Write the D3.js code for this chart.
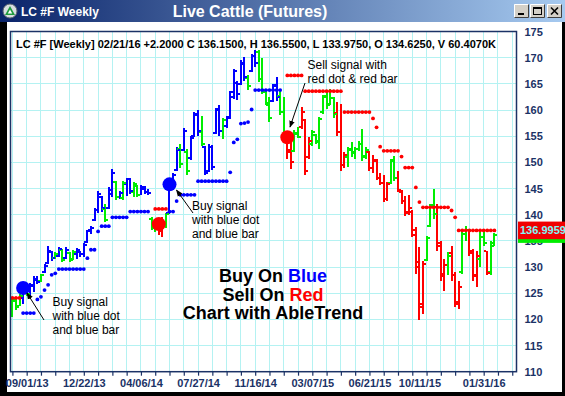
<!DOCTYPE html>
<html>
<head>
<meta charset="utf-8">
<script src="https://cdn.jsdelivr.net/npm/d3@7"></script>
<style>
  body { margin: 0; background: #000; }
  svg { display: block; font-family: "Liberation Sans", Arial, sans-serif; }
</style>
</head>
<body>
<svg id="chart" width="565" height="396"></svg>
<script>
"use strict";

// weekly OHLC bars, oldest first, last bar = week of 02/21/16
const highs = [
  124.2, 123.8, 124.8, 126.6, 126.0, 127.0, 128.3, 128.3, 128.6, 130.6,
  134.0, 133.0, 132.8, 133.8, 133.5, 133.8, 132.8, 133.2, 133.6, 133.0,
  134.6, 137.0, 137.8, 141.2, 144.6, 143.6, 142.0, 145.2, 148.8, 146.4,
  144.5, 146.4, 147.1, 147.0, 146.2, 145.6, 145.6, 145.4, 145.0, 139.5,
  139.2, 139.4, 139.5, 140.4, 145.2, 147.9, 152.9, 153.5, 156.5, 152.5,
  155.0, 159.6, 160.0, 158.9, 153.2, 153.6, 153.4, 160.3, 161.0, 158.4,
  158.8, 163.7, 167.9, 165.5, 169.5, 170.1, 166.6, 170.7, 171.4, 171.4,
  170.0, 164.0, 162.4, 165.0, 166.3, 164.0, 162.4, 154.5, 153.8, 156.1,
  156.7, 160.5, 158.3, 154.8, 156.1, 155.4, 158.6, 162.8, 163.4, 164.0,
  162.5, 161.5, 161.2, 151.9, 153.0, 153.8, 153.0, 154.0, 156.4, 153.0,
  152.2, 151.4, 150.6, 148.0, 147.5, 146.2, 150.7, 151.3, 148.4, 144.7,
  143.6, 143.8, 140.8, 137.6, 133.8, 131.2, 136.0, 142.1, 144.9, 142.1,
  135.0, 131.5, 132.8, 134.1, 129.0, 127.4, 137.0, 137.9, 137.3, 133.4,
  133.1, 136.6, 136.6, 133.1, 135.0, 136.55
];
const lows = [
  120.4, 121.8, 122.5, 122.9, 124.4, 124.3, 125.2, 126.8, 127.2, 128.8,
  130.5, 131.2, 131.6, 131.9, 130.9, 131.6, 131.0, 131.3, 131.6, 131.9,
  132.0, 134.6, 136.4, 138.8, 140.4, 140.5, 138.6, 141.0, 143.3, 142.9,
  143.0, 142.9, 143.6, 144.0, 143.4, 143.4, 143.8, 144.0, 143.8, 137.0,
  136.6, 136.2, 135.7, 137.4, 140.2, 145.2, 148.4, 149.0, 152.2, 147.5,
  150.5, 154.8, 155.0, 153.2, 147.5, 148.1, 148.6, 155.4, 155.0, 154.5,
  156.5, 158.3, 162.1, 162.0, 164.7, 165.6, 163.9, 167.2, 168.2, 165.3,
  163.0, 160.9, 157.7, 161.5, 161.8, 159.0, 153.8, 150.7, 148.8, 151.9,
  154.6, 156.4, 147.5, 150.7, 153.2, 153.6, 152.6, 159.3, 160.2, 161.0,
  158.5, 155.1, 148.4, 149.0, 149.2, 151.0, 150.6, 152.2, 150.3, 150.6,
  148.4, 148.0, 146.6, 145.6, 142.4, 142.7, 145.8, 146.5, 144.3, 142.0,
  139.8, 140.0, 135.7, 128.7, 119.8, 121.0, 131.2, 137.6, 139.2, 133.1,
  127.4, 125.5, 128.4, 127.4, 122.3, 122.0, 128.7, 135.0, 132.2, 127.4,
  126.1, 130.0, 134.0, 128.4, 128.4, 133.975
];
const opens = [
  121.0, 123.5, 122.6, 124.0, 125.8, 124.8, 126.4, 127.6, 127.4, 129.0,
  130.8, 132.8, 131.8, 132.2, 133.2, 131.8, 132.6, 131.6, 132.4, 132.9,
  132.4, 134.8, 137.0, 139.0, 140.8, 143.4, 141.0, 141.2, 144.0, 146.2,
  143.4, 143.2, 145.8, 146.8, 144.4, 145.4, 143.8, 145.0, 144.4, 139.2,
  137.4, 138.8, 137.0, 138.0, 140.4, 145.4, 148.6, 152.6, 152.4, 152.0,
  150.8, 155.0, 159.0, 155.8, 153.0, 148.4, 153.0, 155.6, 160.2, 156.0,
  157.0, 158.6, 162.4, 165.2, 165.0, 168.8, 166.2, 167.4, 170.4, 171.0,
  166.0, 163.5, 161.0, 161.8, 164.8, 162.6, 159.6, 154.4, 152.4, 152.2,
  155.6, 156.8, 158.0, 151.0, 153.6, 155.2, 153.8, 159.6, 162.6, 161.2,
  162.2, 159.4, 155.8, 149.4, 151.0, 152.4, 151.8, 152.6, 153.6, 151.2,
  152.0, 149.0, 150.2, 147.0, 146.0, 143.0, 146.0, 150.4, 147.0, 144.4,
  142.6, 140.6, 140.6, 137.0, 131.0, 122.4, 131.4, 137.8, 141.8, 141.4,
  134.6, 128.6, 130.4, 132.6, 128.4, 123.4, 129.0, 136.4, 137.0, 132.6,
  128.4, 131.6, 135.8, 133.0, 129.0, 134.625
];
const closes = [
  123.8, 122.3, 124.5, 126.0, 124.8, 126.6, 127.8, 127.2, 128.4, 130.2,
  133.0, 131.8, 132.4, 133.4, 131.4, 133.2, 131.4, 132.8, 133.2, 132.4,
  134.2, 136.8, 137.5, 140.9, 144.0, 141.2, 139.0, 144.8, 148.0, 143.4,
  144.2, 146.0, 146.8, 144.6, 145.8, 143.8, 145.2, 144.4, 144.2, 137.4,
  138.8, 136.8, 138.2, 140.2, 145.0, 147.6, 152.4, 149.6, 156.0, 148.4,
  154.6, 159.2, 156.0, 153.6, 148.0, 153.0, 149.2, 160.0, 156.0, 158.0,
  158.4, 163.4, 167.4, 163.0, 169.0, 166.4, 164.6, 170.4, 169.0, 166.0,
  163.6, 161.4, 158.4, 164.6, 162.4, 159.6, 154.6, 152.0, 150.0, 155.4,
  154.8, 159.6, 148.4, 154.0, 155.8, 154.0, 158.2, 162.4, 161.0, 163.6,
  159.2, 155.8, 149.4, 151.4, 152.6, 152.0, 152.6, 153.6, 151.0, 152.4,
  149.0, 150.4, 147.0, 146.0, 143.0, 145.8, 150.2, 147.0, 144.8, 142.6,
  140.4, 141.2, 136.2, 130.0, 123.0, 130.6, 135.6, 141.6, 140.2, 134.0,
  128.2, 130.4, 132.2, 128.4, 123.0, 126.2, 136.4, 137.0, 133.0, 128.2,
  132.2, 135.8, 134.6, 128.8, 133.95, 136.15
];
// bar colour per week: B = blue (buy), G = green (neutral), R = red (sell)
const barColors =
  "GGGBGBBBGB" + "BBGBGBGGBB" + "BBBBBBGBBG" + "BGBBGGBBBG" + "GRRGBBBGBG" +
  "BBBGBBBBBG" + "BBBBBBGBBG" + "GGGBBGGRRG" + "GRRRGGGGGG" + "GRRRGGGGGG" +
  "RRRRRRGGRR" + "RRRRRRGGGR" + "RRGRRRGGRR" + "RGGRGG";

// AbleTrend stop dots per week (null = no dot)
const stops = [
  124.1, 124.1, 124.1, 121.2, 121.2, 121.2, 121.2, 123.8, 124.3, 125.6,
  126.6, 128.5, 128.8, 129.6, 129.6, 129.6, 129.6, 129.6, 129.6, 129.6,
  129.6, 131.7, 133.3, 133.3, 136.8, 137.8, 137.8, 137.8, 139.5, 139.5,
  139.5, 139.5, 139.5, 140.6, 140.6, 140.6, 140.6, 140.6, 140.6, null,
  141.1, 141.1, 141.1, 141.1, 140.6, 140.6, 142.6, 143.8, 143.8, 143.8,
  143.8, 143.8, 146.4, 146.4, 146.4, 146.4, 146.4, 146.4, 146.4, 146.4,
  146.4, 148.1, 153.8, 154.4, 157.4, 157.5, 157.7, 160.1, 163.8, 163.8,
  163.8, 163.8, 163.8, 163.8, 163.8, 163.8, null, 166.6, 166.6, 166.6,
  166.6, 166.6, 163.6, 163.6, 163.6, 163.6, 163.6, 163.6, 163.6, 163.6,
  163.6, 163.6, 163.6, 159.6, 159.6, 159.6, 159.6, 159.6, 159.6, 159.6,
  159.6, 158.4, 156.7, 153.0, 152.2, 152.2, 152.2, 152.2, 152.2, 151.1,
  149.0, 149.0, 149.0, 145.2, 142.4, 141.4, 141.4, 141.4, 141.4, 141.4,
  141.4, 141.4, 141.4, 140.8, 139.5, 137.0, 137.0, 137.0, 137.0, 137.0,
  137.0, 137.0, 137.0, 137.0, 137.0, 137.0
];
const stopColors =
  "RRRBBBBBBB" + "BBBBBBBBBB" + "BBBBBBBBBB" + "BBBBBBBBB-" + "RRRRBBBBBB" +
  "BBBBBBBBBB" + "BBBBBBBBBB" + "BBBBBB-RRR" + "RRRRRRRRRR" + "RRRRRRRRRR" +
  "RRRRRRRRRR" + "RRRRRRRRRR" + "RRRRRRRRRR" + "RRRRRR";

// big signal dots: bar, price, colour
const signalBars = [3, 41, 44, 77];
const signalPrices = [126.0, 138.2, 145.8, 154.8];
const signalColors = ["B", "R", "B", "R"];

const dateLabels = ["09/01/13", "12/22/13", "04/06/14", "07/27/14", "11/16/14",
  "03/07/15", "06/21/15", "10/11/15", "01/31/16"];
const dateLabelBars = [4, 20, 36, 52, 68, 84, 100, 114, 132];
const monthTickBars = d3.range(0, 141, 4);
const priceTicks = [175, 170, 165, 160, 155, 150, 145, 140, 135, 130, 125, 120, 115, 110];
const gridPrices = [170, 165, 160, 155, 150, 145, 140, 135, 130, 125, 120, 115];

const lastPrice = "136.9959";
const lastPriceLevel = 137.0;
const headerText = "LC #F [Weekly] 02/21/16 +2.2000 C 136.1500, H 136.5500, L 133.9750, O 134.6250, V 60.4070K";

const colorOf = { B: "#0000ff", G: "#00ee00", R: "#ff0000" };
const navy = "#1b3266";

const svg = d3.select("#chart");

const plotLeft = 10.5, plotRight = 516.5, plotTop = 31.5, plotBottom = 371.7;
const x = d3.scaleLinear().domain([0, 135]).range([12.4, 494.4]);
const y = d3.scaleLinear().domain([110, 175]).range([plotBottom, plotTop]);

// window chrome
svg.append("rect").attr("width", 565).attr("height", 396).attr("fill", "#000");
svg.append("rect").attr("x", 7).attr("y", 22).attr("width", 555).attr("height", 370).attr("fill", "#fff");

const defs = svg.append("defs");
const grad = defs.append("linearGradient").attr("id", "titleGrad");
grad.append("stop").attr("offset", "0%").attr("stop-color", "#0a246a");
grad.append("stop").attr("offset", "100%").attr("stop-color", "#a6caf0");
svg.append("rect").attr("width", 565).attr("height", 22).attr("fill", "url(#titleGrad)");

defs.append("clipPath").attr("id", "plotClip")
  .append("rect")
  .attr("x", plotLeft).attr("y", plotTop)
  .attr("width", plotRight - plotLeft).attr("height", plotBottom - plotTop);

defs.append("marker")
  .attr("id", "arrow")
  .attr("viewBox", "0 0 10 10")
  .attr("refX", 9).attr("refY", 5)
  .attr("markerWidth", 7).attr("markerHeight", 7)
  .attr("markerUnits", "userSpaceOnUse")
  .attr("orient", "auto")
  .append("path")
  .attr("d", "M0,1 L10,5 L0,9 Z")
  .attr("fill", "#000");

// title bar
const icon = svg.append("g").attr("transform", "translate(10,11)");
icon.append("circle").attr("r", 7).attr("fill", "#d8dde0").attr("stroke", "#5a6470");
icon.append("path").attr("d", "M0,-5 L5,4 L-5,4 Z").attr("fill", "#1f9a3c");
icon.append("path").attr("d", "M0,-1.5 L2.2,2.6 L-2.2,2.6 Z").attr("fill", "#fff");

svg.append("text").attr("x", 21).attr("y", 16)
  .attr("fill", "#fff").attr("font-weight", "bold").attr("font-size", 12)
  .text("LC #F Weekly");
svg.append("text").attr("x", 250).attr("y", 17).attr("text-anchor", "middle")
  .attr("fill", "#fff").attr("font-weight", "bold").attr("font-size", 16)
  .text("Live Cattle (Futures)");

const buttons = [514, 530, 547];
buttons.forEach((bx, k) => {
  const b = svg.append("g").attr("transform", `translate(${bx},4)`);
  b.append("rect").attr("width", 15).attr("height", 14).attr("fill", "#d4d0c8");
  b.append("path").attr("d", "M0.5,13.5 V0.5 H14.5").attr("fill", "none").attr("stroke", "#fff");
  b.append("path").attr("d", "M0.5,13.5 H14.5 V0.5").attr("fill", "none").attr("stroke", "#404040");
  if (k === 0) b.append("rect").attr("x", 4).attr("y", 9).attr("width", 6).attr("height", 2).attr("fill", "#000");
  if (k === 1) {
    b.append("rect").attr("x", 3.5).attr("y", 3.5).attr("width", 8).attr("height", 7)
      .attr("fill", "none").attr("stroke", "#000").attr("stroke-width", 1);
    b.append("rect").attr("x", 3.5).attr("y", 3.5).attr("width", 8).attr("height", 1.5).attr("fill", "#000");
  }
  if (k === 2) b.append("path").attr("d", "M4,3.5 L11,10.5 M11,3.5 L4,10.5")
    .attr("stroke", "#000").attr("stroke-width", 1.6);
});

// grid
const grid = svg.append("g").attr("stroke", "#b4f2f2").attr("stroke-width", 1).attr("shape-rendering", "crispEdges");
grid.selectAll(".vg").data(monthTickBars.filter(b => x(b) < plotRight - 2)).enter().append("line")
  .attr("x1", d => x(d)).attr("x2", d => x(d))
  .attr("y1", plotTop).attr("y2", plotBottom);
grid.selectAll(".hg").data(gridPrices).enter().append("line")
  .attr("x1", plotLeft).attr("x2", plotRight)
  .attr("y1", d => y(d)).attr("y2", d => y(d));

// header line
svg.append("text").attr("x", 16).attr("y", 47.5)
  .attr("font-size", 11).attr("font-weight", "bold").attr("fill", "#000")
  .text(headerText);

// plot marks
const plot = svg.append("g").attr("clip-path", "url(#plotClip)");

const bars = highs.map((h, i) => ({ i, h, l: lows[i], o: opens[i], c: closes[i], col: colorOf[barColors[i]] }));
const barG = plot.append("g").attr("shape-rendering", "crispEdges");
barG.selectAll(".hl").data(bars).enter().append("rect")
  .attr("x", d => Math.round(x(d.i)) - 1).attr("width", 2)
  .attr("y", d => y(d.h)).attr("height", d => y(d.l) - y(d.h))
  .attr("fill", d => d.col);
barG.selectAll(".op").data(bars).enter().append("rect")
  .attr("x", d => Math.round(x(d.i)) - 3).attr("width", 2)
  .attr("y", d => Math.round(y(d.o)) - 1).attr("height", 2)
  .attr("fill", d => d.col);
barG.selectAll(".cl").data(bars).enter().append("rect")
  .attr("x", d => Math.round(x(d.i)) + 1).attr("width", 2)
  .attr("y", d => Math.round(y(d.c)) - 1).attr("height", 2)
  .attr("fill", d => d.col);

// stop dots, joined where the level stays flat
const dots = stops.map((s, i) => ({ i, s, col: colorOf[stopColors[i]] })).filter(d => d.s !== null);
const links = dots.filter((d, k) => k > 0 && dots[k - 1].i === d.i - 1 && dots[k - 1].s === d.s && stopColors[d.i] === stopColors[d.i - 1]);
plot.selectAll(".lk").data(links).enter().append("line")
  .attr("x1", d => x(d.i - 1)).attr("x2", d => x(d.i))
  .attr("y1", d => y(d.s)).attr("y2", d => y(d.s))
  .attr("stroke", d => d.col).attr("stroke-width", 1.4);
plot.selectAll(".dot").data(dots).enter().append("circle")
  .attr("cx", d => x(d.i)).attr("cy", d => y(d.s)).attr("r", 1.9)
  .attr("fill", d => d.col);

// signal dots
plot.selectAll(".sig").data(signalBars).enter().append("circle")
  .attr("cx", d => x(d)).attr("cy", (d, k) => y(signalPrices[k]))
  .attr("r", 7).attr("fill", (d, k) => colorOf[signalColors[k]]);

// frame
svg.append("rect").attr("x", plotLeft).attr("y", plotTop)
  .attr("width", plotRight - plotLeft).attr("height", plotBottom - plotTop)
  .attr("fill", "none").attr("stroke", navy).attr("stroke-width", 1.5);

// axes
const tickAxis = d3.axisBottom(x).tickValues(monthTickBars.filter(b => x(b) < plotRight - 2))
  .tickSize(4).tickFormat("");
const tg = svg.append("g").attr("transform", `translate(0,${plotBottom})`).call(tickAxis);
tg.select(".domain").remove();
tg.selectAll("line").attr("stroke", navy).attr("stroke-width", 1.2);

const dateAxis = d3.axisBottom(x).tickValues(dateLabelBars)
  .tickFormat((d, k) => dateLabels[k]).tickSize(0).tickPadding(8);
const dg = svg.append("g").attr("transform", `translate(0,${plotBottom})`).call(dateAxis);
dg.select(".domain").remove();
dg.selectAll("text").attr("font-family", "Liberation Sans, Arial, sans-serif")
  .attr("font-size", 11).attr("font-weight", "bold").attr("fill", navy);

const priceAxis = d3.axisRight(y).tickValues(priceTicks).tickSize(0).tickPadding(8).tickFormat(d3.format("d"));
const pg = svg.append("g").attr("transform", `translate(${plotRight},0)`).call(priceAxis);
pg.select(".domain").remove();
pg.selectAll("text").attr("font-family", "Liberation Sans, Arial, sans-serif")
  .attr("font-size", 11).attr("font-weight", "bold").attr("fill", navy);

// last price boxes
svg.append("rect").attr("x", 518).attr("y", y(lastPriceLevel) - 4).attr("width", 47).attr("height", 16.5)
  .attr("fill", "#00ee00");
svg.append("rect").attr("x", 518).attr("y", y(lastPriceLevel) - 8.8).attr("width", 47).attr("height", 17.6)
  .attr("fill", "#f00000");
svg.append("text").attr("x", 520).attr("y", y(lastPriceLevel) + 4)
  .attr("font-size", 11).attr("font-weight", "bold").attr("fill", "#7ff7f7")
  .text(lastPrice);

// annotations
const note = svg.append("g").attr("font-size", 12).attr("fill", "#000");
const addNote = (lines, nx, ny) => {
  lines.forEach((t, k) => note.append("text").attr("x", nx).attr("y", ny + k * 14.2).text(t));
};
addNote(["Buy signal", "with blue dot", "and blue bar"], 52.5, 305.5);
addNote(["Buy signal", "with blue dot", "and blue bar"], 192, 210);
addNote(["Sell signal with", "red dot & red bar"], 307.5, 69);

const arrows = [[44, 320, 27, 293], [193, 213, 176.5, 190], [305, 83, 290, 127]];
svg.selectAll(".arr").data(arrows).enter().append("line")
  .attr("x1", d => d[0]).attr("y1", d => d[1]).attr("x2", d => d[2]).attr("y2", d => d[3])
  .attr("stroke", "#000").attr("stroke-width", 1).attr("marker-end", "url(#arrow)");

const slogan = svg.append("g").attr("font-size", 18).attr("font-weight", "bold")
  .attr("text-anchor", "middle").attr("fill", "#000");
const l1 = slogan.append("text").attr("x", 273).attr("y", 282);
l1.append("tspan").text("Buy On ");
l1.append("tspan").attr("fill", "#0000ff").text("Blue");
const l2 = slogan.append("text").attr("x", 273).attr("y", 300.5);
l2.append("tspan").text("Sell On ");
l2.append("tspan").attr("fill", "#ff0000").text("Red");
slogan.append("text").attr("x", 273).attr("y", 319).text("Chart with AbleTrend");
</script>
</body>
</html>
